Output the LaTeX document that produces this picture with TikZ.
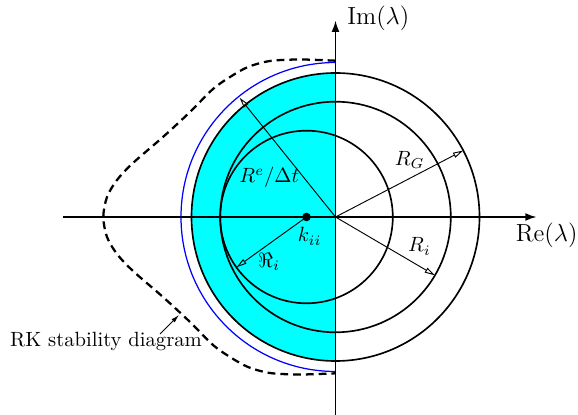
\documentclass[tikz,border=0pt]{standalone}
\usetikzlibrary{arrows.meta,calc}
\definecolor{aqua}{RGB}{0,255,255}
\definecolor{pureblue}{RGB}{0,0,255}
\begin{document}
\begin{tikzpicture}[x=0.485pt,y=0.485pt,
  circ/.style={line width=0.8pt},
  axisarrow/.style={line width=0.8pt,-{Latex[length=5.5pt,width=3.8pt]}},
  radarrow/.style={line width=0.45pt,-{Triangle[open,length=5pt,width=2.6pt]}},
  stab/.style={line width=1.1pt,dash pattern=on 3.8pt off 2.4pt},
  lbl/.style={inner sep=1pt}]
\useasboundingbox (-335.5,-198) rectangle (242.5,217);
\coordinate (O) at (0,0);
\coordinate (K) at (-29,0);
% stable half disk
\fill[aqua] (0,144) arc[start angle=90,end angle=270,radius=144] -- cycle;
% blue arc
\draw[pureblue,line width=0.6pt] (0,154.5) arc[start angle=90,end angle=270,radius=154.5];
% circles
\draw[circ] (O) circle (144);
\draw[circ] (O) circle (115.3);
\draw[circ] (K) circle (86.3);
% RK stability contour
\draw[stab] plot[smooth] coordinates {
  (0,156.3) (-35.5,157.5) (-65.5,156) (-87.5,150) (-105.5,140) (-122.5,128)
  (-145.5,105) (-172.5,80) (-202.5,54) (-218.5,37) (-228.5,20) (-232.2,0)
  (-228.5,-20) (-218.5,-37) (-202.5,-54) (-172.5,-80) (-145.5,-105)
  (-122.5,-128) (-105.5,-140) (-87.5,-150) (-65.5,-156) (-35.5,-157.5) (0,-156.3)};
% axes
\coordinate (xs) at (-272.2,0);
\coordinate (xe) at (201.2,0);
\coordinate (ys) at (0,-198);
\coordinate (ye) at (0,196.5);
\draw[axisarrow] (xs) -- (xe);
\draw[axisarrow] (ys) -- (ye);
\node[lbl] (im) at (42.8,199) {\large $\mathrm{Im}(\lambda)$};
\node[lbl] (re) at (211.2,-18) {\large $\mathrm{Re}(\lambda)$};
% radii
\coordinate (pRe) at (128.8:153);
\coordinate (pG) at (27.5:144);
\coordinate (pI) at (-30.4:115.3);
\coordinate (pK) at ($(K)+(215.7:86.3)$);
\draw[radarrow] (O) -- (pRe);
\draw[radarrow] (O) -- (pG);
\draw[radarrow] (O) -- (pI);
\draw[radarrow] (K) -- (pK);
\fill (K) circle (4.3);
\node[lbl] (lRe) at (-66.2,39.5) {$R^e/\Delta t$};
\node[lbl] (lG) at (74.2,57) {$R_G$};
\node[lbl] (lI) at (84,-29.5) {$R_i$};
\node[lbl] (lk) at (-25.8,-19.3) {$k_{ii}$};
\node[lbl] (lRi) at (-66.5,-45) {$\Re_i$};
% RK label
\node[lbl] (rk) at (-229.5,-124.5) {RK stability diagram};
\coordinate (rkt) at (-175.5,-117);
\coordinate (rkp) at (-156.5,-98);
\draw[line width=0.45pt,-{Latex[length=4pt,width=2.2pt]}] (rkt) -- (rkp);
\end{tikzpicture}
\end{document}
